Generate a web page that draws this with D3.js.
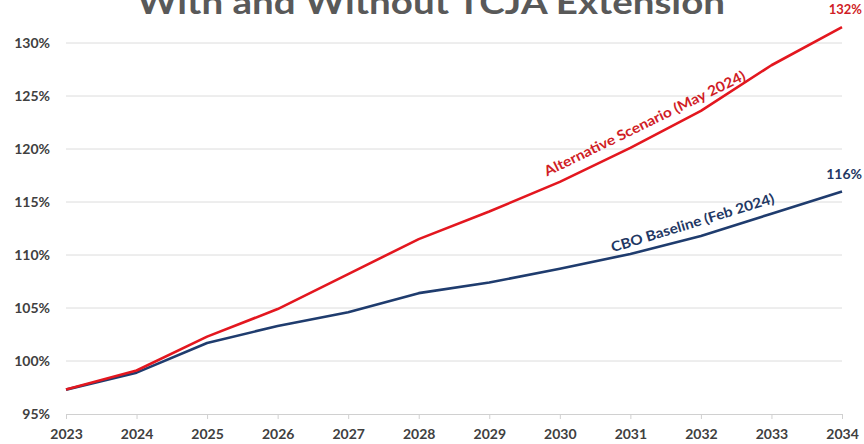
<!DOCTYPE html>
<html>
<head>
<meta charset="utf-8">
<script src="https://cdn.jsdelivr.net/npm/d3@7"></script>
<style>
  html, body { margin: 0; padding: 0; background: #fff; }
  svg { display: block; font-family: Lato, "Open Sans", sans-serif; }
</style>
</head>
<body>
<svg id="chart" width="864" height="444"></svg>
<script>
// Debt held by the public, % of GDP
const years = [2023, 2024, 2025, 2026, 2027, 2028, 2029, 2030, 2031, 2032, 2033, 2034];
const cboBaseline = [97.3, 98.9, 101.7, 103.3, 104.6, 106.4, 107.4, 108.7, 110.1, 111.8, 113.9, 116.0];
const alternative = [97.3, 99.1, 102.3, 104.9, 108.2, 111.5, 114.1, 116.9, 120.1, 123.6, 127.9, 131.5];
const yTicks = [95, 100, 105, 110, 115, 120, 125, 130];
const title = "With and Without TCJA Extension";
const altLabel = "Alternative Scenario (May 2024)";
const cboLabel = "CBO Baseline (Feb 2024)";

const svg = d3.select("#chart");
const margin = { left: 66, right: 22, top: 43, bottom: 30 };
const W = 864, H = 444;

const x = d3.scaleLinear().domain([2023, 2034]).range([margin.left, W - margin.right]);
const y = d3.scaleLinear().domain([95, 130]).range([H - margin.bottom, margin.top]);

// Title (runs off the top edge)
svg.append("text")
  .attr("x", 431).attr("y", 14)
  .attr("text-anchor", "middle")
  .attr("font-size", 33).attr("font-weight", 700)
  .attr("fill", "#595959")
  .attr("textLength", 588).attr("lengthAdjust", "spacingAndGlyphs")
  .text(title);

// Horizontal gridlines
svg.append("g").selectAll("line")
  .data(yTicks.filter(d => d > 95))
  .join("line")
  .attr("x1", x(2023)).attr("x2", x(2034))
  .attr("y1", d => y(d)).attr("y2", d => y(d))
  .attr("stroke", "#dcdcdc").attr("stroke-width", 1);

// Y axis labels
const yAxis = d3.axisLeft(y).tickValues(yTicks).tickFormat(d => d + "%").tickSize(0).tickPadding(16);
const gy = svg.append("g").attr("transform", `translate(${margin.left},0)`).call(yAxis);
gy.select(".domain").remove();
gy.selectAll("text")
  .attr("font-family", "Lato, sans-serif")
  .attr("font-size", 14).attr("font-weight", 700)
  .attr("fill", "#404040");

// X axis
const xAxis = d3.axisBottom(x).tickValues(years).tickFormat(d3.format("d")).tickSize(5).tickPadding(10);
const gx = svg.append("g").attr("transform", `translate(0,${y(95)})`).call(xAxis);
gx.select(".domain").attr("stroke", "#d0d0d0");
gx.selectAll(".tick line").attr("stroke", "#d0d0d0");
gx.selectAll("text")
  .attr("font-family", "Lato, sans-serif")
  .attr("font-size", 14).attr("font-weight", 700)
  .attr("fill", "#404040");

// Series lines
const line = d3.line().x((d, i) => x(years[i])).y(d => y(d));
svg.append("path").datum(cboBaseline)
  .attr("d", line).attr("fill", "none")
  .attr("stroke", "#1f3c6e").attr("stroke-width", 2.6)
  .attr("stroke-linejoin", "round");
svg.append("path").datum(alternative)
  .attr("d", line).attr("fill", "none")
  .attr("stroke", "#e3171f").attr("stroke-width", 2.6)
  .attr("stroke-linejoin", "round");

// Series labels running along the lines, just above them
function slopeLabel(text, xv, yv, angle, len, color) {
  svg.append("text")
    .attr("transform", `translate(${x(xv)},${y(yv)}) rotate(${angle})`)
    .attr("font-size", 14).attr("font-weight", 700)
    .attr("fill", color)
    .attr("textLength", len).attr("lengthAdjust", "spacingAndGlyphs")
    .text(text);
}
slopeLabel(altLabel, 2029.82, 117.4, -26, 222, "#d01d26");
slopeLabel(cboLabel, 2030.75, 110.25, -17, 170, "#1f3864");

// End-value labels
const endLabels = [
  { v: alternative[alternative.length - 1], color: "#d01d26", dy: -13, size: 13 },
  { v: cboBaseline[cboBaseline.length - 1], color: "#1f3864", dy: -12, size: 14 }
];
svg.append("g").selectAll("text")
  .data(endLabels)
  .join("text")
  .attr("x", W - 2)
  .attr("y", d => y(d.v) + d.dy)
  .attr("text-anchor", "end")
  .attr("font-size", d => d.size).attr("font-weight", 700)
  .attr("fill", d => d.color)
  .text(d => Math.round(d.v) + "%");
</script>
</body>
</html>
